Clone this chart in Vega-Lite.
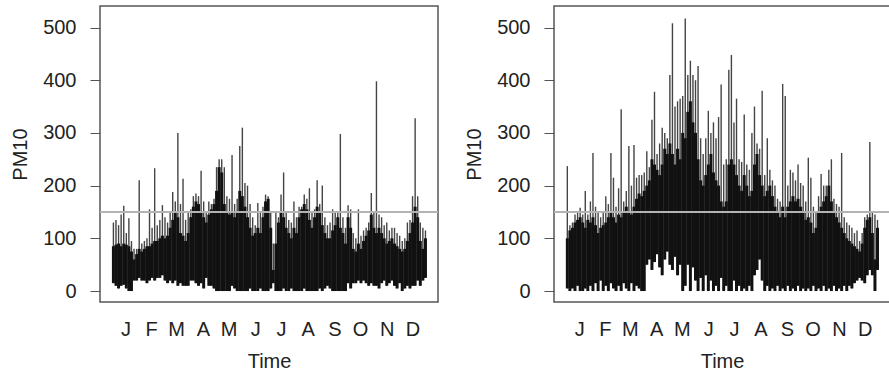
{
"$schema": "https://vega.github.io/schema/vega-lite/v6.json",
"autosize": {"type": "pad"},
"padding": {"left": 9, "top": 5, "right": 0, "bottom": 0},
"background": "white",
"config": {
  "view": {"stroke": "#555555", "strokeWidth": 1.5},
  "font": "Liberation Sans",
  "axis": {"grid": false, "domain": false, "labelFont": "Liberation Sans", "titleFont": "Liberation Sans", "labelColor": "#222222", "titleColor": "#222222", "tickColor": "#555555", "titleFontWeight": "normal", "labelFontSize": 20, "titleFontSize": 20, "labelOverlap": false},
  "axisX": {"labelOverlap": false, "labelFlush": false}
},
"datasets": {
"a": [
{"d":2,"lo":15,"core":85,"top":130},{"d":5,"lo":10,"core":88,"top":135},{"d":8,"lo":5,"core":90,"top":125},{"d":11,"lo":10,"core":85,"top":145},{"d":14,"lo":12,"core":90,"top":162},{"d":17,"lo":5,"core":88,"top":110},{"d":20,"lo":0,"core":85,"top":138},{"d":23,"lo":0,"core":75,"top":95},{"d":26,"lo":20,"core":60,"top":80},{"d":29,"lo":20,"core":70,"top":80},
{"d":32,"lo":25,"core":80,"top":210},{"d":35,"lo":20,"core":75,"top":90},{"d":38,"lo":20,"core":80,"top":95},{"d":41,"lo":15,"core":85,"top":100},{"d":44,"lo":20,"core":85,"top":155},{"d":47,"lo":25,"core":90,"top":120},{"d":50,"lo":20,"core":95,"top":233},{"d":53,"lo":25,"core":95,"top":125},{"d":56,"lo":25,"core":100,"top":135},{"d":59,"lo":30,"core":105,"top":163},
{"d":62,"lo":20,"core":100,"top":140},{"d":65,"lo":15,"core":105,"top":130},{"d":68,"lo":20,"core":120,"top":150},{"d":71,"lo":15,"core":135,"top":188},{"d":74,"lo":20,"core":150,"top":170},{"d":77,"lo":10,"core":140,"top":300},{"d":80,"lo":15,"core":110,"top":165},{"d":83,"lo":10,"core":105,"top":213},{"d":86,"lo":10,"core":95,"top":135},{"d":89,"lo":10,"core":110,"top":150},
{"d":92,"lo":20,"core":140,"top":155},{"d":95,"lo":20,"core":160,"top":180},{"d":98,"lo":15,"core":170,"top":185},{"d":101,"lo":10,"core":165,"top":180},{"d":104,"lo":15,"core":150,"top":228},{"d":107,"lo":5,"core":140,"top":170},{"d":110,"lo":25,"core":130,"top":150},{"d":113,"lo":10,"core":145,"top":170},{"d":116,"lo":10,"core":155,"top":165},{"d":119,"lo":5,"core":165,"top":175},
{"d":122,"lo":0,"core":190,"top":235},{"d":125,"lo":0,"core":235,"top":250},{"d":128,"lo":0,"core":225,"top":250},{"d":131,"lo":0,"core":165,"top":235},{"d":134,"lo":0,"core":150,"top":180},{"d":137,"lo":0,"core":145,"top":175},{"d":140,"lo":10,"core":150,"top":258},{"d":143,"lo":5,"core":140,"top":165},{"d":146,"lo":0,"core":150,"top":175},{"d":149,"lo":0,"core":190,"top":275},
{"d":152,"lo":0,"core":180,"top":310},{"d":155,"lo":0,"core":160,"top":205},{"d":158,"lo":0,"core":140,"top":200},{"d":161,"lo":5,"core":120,"top":165},{"d":164,"lo":0,"core":105,"top":140},{"d":167,"lo":0,"core":110,"top":125},{"d":170,"lo":0,"core":120,"top":167},{"d":173,"lo":5,"core":110,"top":150},{"d":176,"lo":0,"core":140,"top":160},{"d":179,"lo":0,"core":170,"top":183},
{"d":182,"lo":0,"core":175,"top":180},{"d":185,"lo":5,"core":120,"top":150},{"d":188,"lo":15,"core":40,"top":90},{"d":191,"lo":0,"core":90,"top":150},{"d":194,"lo":0,"core":130,"top":140},{"d":197,"lo":0,"core":150,"top":183},{"d":200,"lo":5,"core":140,"top":225},{"d":203,"lo":0,"core":120,"top":150},{"d":206,"lo":0,"core":110,"top":135},{"d":209,"lo":5,"core":100,"top":130},
{"d":212,"lo":0,"core":120,"top":170},{"d":215,"lo":0,"core":110,"top":140},{"d":218,"lo":0,"core":140,"top":160},{"d":221,"lo":0,"core":155,"top":160},{"d":224,"lo":5,"core":165,"top":183},{"d":227,"lo":0,"core":155,"top":175},{"d":230,"lo":0,"core":135,"top":195},{"d":233,"lo":0,"core":120,"top":150},{"d":236,"lo":0,"core":140,"top":155},{"d":239,"lo":0,"core":160,"top":210},
{"d":242,"lo":5,"core":150,"top":165},{"d":245,"lo":0,"core":125,"top":200},{"d":248,"lo":5,"core":110,"top":140},{"d":251,"lo":10,"core":100,"top":125},{"d":254,"lo":5,"core":100,"top":130},{"d":257,"lo":0,"core":115,"top":155},{"d":260,"lo":0,"core":125,"top":150},{"d":263,"lo":0,"core":140,"top":150},{"d":266,"lo":0,"core":120,"top":298},{"d":269,"lo":0,"core":110,"top":140},
{"d":272,"lo":0,"core":90,"top":120},{"d":275,"lo":15,"core":140,"top":163},{"d":278,"lo":5,"core":120,"top":155},{"d":281,"lo":15,"core":80,"top":110},{"d":284,"lo":15,"core":75,"top":100},{"d":287,"lo":20,"core":90,"top":155},{"d":290,"lo":15,"core":80,"top":105},{"d":293,"lo":20,"core":95,"top":115},{"d":296,"lo":15,"core":105,"top":120},{"d":299,"lo":10,"core":115,"top":130},
{"d":302,"lo":15,"core":145,"top":186},{"d":305,"lo":10,"core":120,"top":150},{"d":308,"lo":10,"core":110,"top":398},{"d":311,"lo":5,"core":120,"top":145},{"d":314,"lo":15,"core":110,"top":140},{"d":317,"lo":20,"core":100,"top":125},{"d":320,"lo":10,"core":90,"top":130},{"d":323,"lo":15,"core":95,"top":115},{"d":326,"lo":20,"core":100,"top":120},{"d":329,"lo":10,"core":90,"top":120},
{"d":332,"lo":5,"core":85,"top":110},{"d":335,"lo":15,"core":80,"top":105},{"d":338,"lo":0,"core":75,"top":95},{"d":341,"lo":5,"core":80,"top":100},{"d":344,"lo":10,"core":95,"top":130},{"d":347,"lo":5,"core":110,"top":135},{"d":350,"lo":10,"core":130,"top":180},{"d":353,"lo":10,"core":160,"top":328},{"d":356,"lo":20,"core":140,"top":180},{"d":359,"lo":10,"core":95,"top":130},
{"d":362,"lo":20,"core":80,"top":120},{"d":365,"lo":25,"core":100,"top":115}
],
"b": [
{"d":2,"lo":5,"core":100,"top":237},{"d":5,"lo":0,"core":115,"top":125},{"d":8,"lo":5,"core":120,"top":130},{"d":11,"lo":0,"core":130,"top":145},{"d":14,"lo":10,"core":135,"top":150},{"d":17,"lo":0,"core":140,"top":158},{"d":20,"lo":0,"core":130,"top":145},{"d":23,"lo":5,"core":120,"top":190},{"d":26,"lo":0,"core":135,"top":145},{"d":29,"lo":10,"core":130,"top":170},
{"d":32,"lo":0,"core":140,"top":262},{"d":35,"lo":15,"core":125,"top":160},{"d":38,"lo":0,"core":110,"top":150},{"d":41,"lo":20,"core":120,"top":140},{"d":44,"lo":0,"core":125,"top":150},{"d":47,"lo":10,"core":130,"top":180},{"d":50,"lo":0,"core":140,"top":165},{"d":53,"lo":15,"core":150,"top":262},{"d":56,"lo":5,"core":140,"top":215},{"d":59,"lo":0,"core":130,"top":160},
{"d":62,"lo":10,"core":145,"top":195},{"d":65,"lo":0,"core":140,"top":345},{"d":68,"lo":15,"core":150,"top":170},{"d":71,"lo":5,"core":160,"top":190},{"d":74,"lo":0,"core":150,"top":275},{"d":77,"lo":15,"core":145,"top":200},{"d":80,"lo":0,"core":160,"top":277},{"d":83,"lo":10,"core":175,"top":215},{"d":86,"lo":5,"core":185,"top":220},{"d":89,"lo":0,"core":180,"top":220},
{"d":92,"lo":0,"core":190,"top":225},{"d":95,"lo":50,"core":200,"top":265},{"d":98,"lo":60,"core":210,"top":235},{"d":101,"lo":40,"core":250,"top":325},{"d":104,"lo":55,"core":240,"top":378},{"d":107,"lo":70,"core":230,"top":260},{"d":110,"lo":45,"core":220,"top":280},{"d":113,"lo":30,"core":240,"top":310},{"d":116,"lo":60,"core":270,"top":300},{"d":119,"lo":75,"core":260,"top":290},
{"d":122,"lo":50,"core":280,"top":410},{"d":125,"lo":40,"core":260,"top":508},{"d":128,"lo":65,"core":240,"top":350},{"d":131,"lo":30,"core":270,"top":360},{"d":134,"lo":50,"core":250,"top":365},{"d":137,"lo":0,"core":300,"top":370},{"d":140,"lo":10,"core":290,"top":517},{"d":143,"lo":50,"core":340,"top":410},{"d":146,"lo":0,"core":360,"top":437},{"d":149,"lo":45,"core":320,"top":410},
{"d":152,"lo":20,"core":300,"top":400},{"d":155,"lo":0,"core":250,"top":427},{"d":158,"lo":25,"core":210,"top":290},{"d":161,"lo":0,"core":200,"top":260},{"d":164,"lo":30,"core":220,"top":290},{"d":167,"lo":0,"core":240,"top":342},{"d":170,"lo":20,"core":260,"top":300},{"d":173,"lo":0,"core":225,"top":320},{"d":176,"lo":10,"core":210,"top":290},{"d":179,"lo":0,"core":200,"top":330},
{"d":182,"lo":25,"core":170,"top":392},{"d":185,"lo":0,"core":160,"top":240},{"d":188,"lo":10,"core":170,"top":250},{"d":191,"lo":0,"core":240,"top":420},{"d":194,"lo":0,"core":250,"top":448},{"d":197,"lo":20,"core":240,"top":320},{"d":200,"lo":0,"core":220,"top":365},{"d":203,"lo":10,"core":200,"top":250},{"d":206,"lo":0,"core":190,"top":245},{"d":209,"lo":5,"core":220,"top":335},
{"d":212,"lo":0,"core":200,"top":240},{"d":215,"lo":10,"core":180,"top":230},{"d":218,"lo":0,"core":190,"top":300},{"d":221,"lo":30,"core":240,"top":350},{"d":224,"lo":40,"core":260,"top":280},{"d":227,"lo":60,"core":220,"top":270},{"d":230,"lo":20,"core":200,"top":380},{"d":233,"lo":0,"core":180,"top":220},{"d":236,"lo":10,"core":190,"top":290},{"d":239,"lo":0,"core":200,"top":230},
{"d":242,"lo":5,"core":180,"top":210},{"d":245,"lo":0,"core":160,"top":200},{"d":248,"lo":10,"core":150,"top":175},{"d":251,"lo":0,"core":140,"top":170},{"d":254,"lo":5,"core":160,"top":393},{"d":257,"lo":0,"core":140,"top":370},{"d":260,"lo":10,"core":160,"top":200},{"d":263,"lo":0,"core":170,"top":230},{"d":266,"lo":5,"core":180,"top":225},{"d":269,"lo":0,"core":170,"top":210},
{"d":272,"lo":10,"core":175,"top":240},{"d":275,"lo":0,"core":160,"top":205},{"d":278,"lo":5,"core":150,"top":200},{"d":281,"lo":0,"core":135,"top":170},{"d":284,"lo":5,"core":140,"top":253},{"d":287,"lo":0,"core":130,"top":215},{"d":290,"lo":10,"core":110,"top":160},{"d":293,"lo":0,"core":120,"top":150},{"d":296,"lo":5,"core":150,"top":180},{"d":299,"lo":0,"core":160,"top":222},
{"d":302,"lo":10,"core":170,"top":200},{"d":305,"lo":0,"core":180,"top":200},{"d":308,"lo":5,"core":200,"top":230},{"d":311,"lo":0,"core":170,"top":250},{"d":314,"lo":10,"core":150,"top":175},{"d":317,"lo":0,"core":140,"top":165},{"d":320,"lo":5,"core":130,"top":160},{"d":323,"lo":0,"core":120,"top":262},{"d":326,"lo":10,"core":110,"top":140},{"d":329,"lo":0,"core":100,"top":130},
{"d":332,"lo":10,"core":95,"top":125},{"d":335,"lo":5,"core":90,"top":120},{"d":338,"lo":15,"core":85,"top":110},{"d":341,"lo":20,"core":80,"top":115},{"d":344,"lo":25,"core":75,"top":95},{"d":347,"lo":20,"core":90,"top":110},{"d":350,"lo":15,"core":120,"top":140},{"d":353,"lo":30,"core":135,"top":145},{"d":356,"lo":40,"core":140,"top":283},{"d":359,"lo":30,"core":110,"top":150},
{"d":362,"lo":0,"core":60,"top":145},{"d":365,"lo":40,"core":120,"top":135}
],
"limit": [{"v": 150}]
},
"spacing": 116,
"bounds": "flush",
"hconcat": [
{
  "width": 338, "height": 296,
  "layer": [
    {"data": {"name": "a"}, "mark": {"type": "rule", "color": "#444444", "strokeWidth": 1.4},
     "encoding": {
       "x": {"field": "d", "type": "quantitative", "scale": {"domain": [-13.6, 379.6], "nice": false, "zero": false},
             "axis": {"values": [16,46,75,106,136,167,197,228,259,289,320,350], "labelExpr": "datum.value < 30 ? 'J' : datum.value < 60 ? 'F' : datum.value < 90 ? 'M' : datum.value < 120 ? 'A' : datum.value < 150 ? 'M' : datum.value < 180 ? 'J' : datum.value < 210 ? 'J' : datum.value < 240 ? 'A' : datum.value < 270 ? 'S' : datum.value < 300 ? 'O' : datum.value < 330 ? 'N' : 'D'", "ticks": false, "labelPadding": 17, "title": "Time", "titlePadding": 12, "labelOverlap": false}},
       "y": {"field": "lo", "type": "quantitative", "scale": {"domain": [-20.8, 540.8], "nice": false, "zero": false},
             "axis": {"values": [0,100,200,300,400,500], "tickSize": 10, "labelPadding": 14, "title": "PM10", "titlePadding": 12, "labelOverlap": false}},
       "y2": {"field": "top"}}},
    {"data": {"name": "a"}, "mark": {"type": "rule", "color": "#111111", "strokeWidth": 3},
     "encoding": {
       "x": {"field": "d", "type": "quantitative",
             "axis": {"values": [16,46,75,106,136,167,197,228,259,289,320,350], "labelExpr": "datum.value < 30 ? 'J' : datum.value < 60 ? 'F' : datum.value < 90 ? 'M' : datum.value < 120 ? 'A' : datum.value < 150 ? 'M' : datum.value < 180 ? 'J' : datum.value < 210 ? 'J' : datum.value < 240 ? 'A' : datum.value < 270 ? 'S' : datum.value < 300 ? 'O' : datum.value < 330 ? 'N' : 'D'", "ticks": false, "labelPadding": 17, "title": "Time", "titlePadding": 12, "labelOverlap": false}},
       "y": {"field": "lo", "type": "quantitative",
             "axis": {"values": [0,100,200,300,400,500], "tickSize": 10, "labelPadding": 14, "title": "PM10", "titlePadding": 12, "labelOverlap": false}},
       "y2": {"field": "core"}}},
    {"data": {"name": "limit"}, "mark": {"type": "rule", "color": "#b3b3b3", "strokeWidth": 2},
     "encoding": {"y": {"field": "v", "type": "quantitative",
             "axis": {"values": [0,100,200,300,400,500], "tickSize": 10, "labelPadding": 14, "title": "PM10", "titlePadding": 12, "labelOverlap": false}}}}
  ]
},
{
  "width": 336, "height": 296,
  "layer": [
    {"data": {"name": "b"}, "mark": {"type": "rule", "color": "#444444", "strokeWidth": 1.4},
     "encoding": {
       "x": {"field": "d", "type": "quantitative", "scale": {"domain": [-13.6, 379.6], "nice": false, "zero": false},
             "axis": {"values": [16,46,75,106,136,167,197,228,259,289,320,350], "labelExpr": "datum.value < 30 ? 'J' : datum.value < 60 ? 'F' : datum.value < 90 ? 'M' : datum.value < 120 ? 'A' : datum.value < 150 ? 'M' : datum.value < 180 ? 'J' : datum.value < 210 ? 'J' : datum.value < 240 ? 'A' : datum.value < 270 ? 'S' : datum.value < 300 ? 'O' : datum.value < 330 ? 'N' : 'D'", "ticks": false, "labelPadding": 17, "title": "Time", "titlePadding": 12, "labelOverlap": false}},
       "y": {"field": "lo", "type": "quantitative", "scale": {"domain": [-20.8, 540.8], "nice": false, "zero": false},
             "axis": {"values": [0,100,200,300,400,500], "tickSize": 10, "labelPadding": 14, "title": "PM10", "titlePadding": 12, "labelOverlap": false}},
       "y2": {"field": "top"}}},
    {"data": {"name": "b"}, "mark": {"type": "rule", "color": "#111111", "strokeWidth": 3},
     "encoding": {
       "x": {"field": "d", "type": "quantitative",
             "axis": {"values": [16,46,75,106,136,167,197,228,259,289,320,350], "labelExpr": "datum.value < 30 ? 'J' : datum.value < 60 ? 'F' : datum.value < 90 ? 'M' : datum.value < 120 ? 'A' : datum.value < 150 ? 'M' : datum.value < 180 ? 'J' : datum.value < 210 ? 'J' : datum.value < 240 ? 'A' : datum.value < 270 ? 'S' : datum.value < 300 ? 'O' : datum.value < 330 ? 'N' : 'D'", "ticks": false, "labelPadding": 17, "title": "Time", "titlePadding": 12, "labelOverlap": false}},
       "y": {"field": "lo", "type": "quantitative",
             "axis": {"values": [0,100,200,300,400,500], "tickSize": 10, "labelPadding": 14, "title": "PM10", "titlePadding": 12, "labelOverlap": false}},
       "y2": {"field": "core"}}},
    {"data": {"name": "limit"}, "mark": {"type": "rule", "color": "#b3b3b3", "strokeWidth": 2},
     "encoding": {"y": {"field": "v", "type": "quantitative",
             "axis": {"values": [0,100,200,300,400,500], "tickSize": 10, "labelPadding": 14, "title": "PM10", "titlePadding": 12, "labelOverlap": false}}}}
  ]
}
]
}
